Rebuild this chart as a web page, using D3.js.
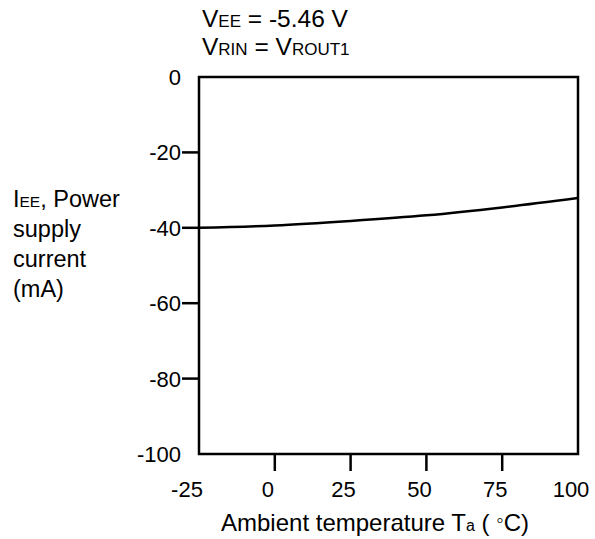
<!DOCTYPE html>
<html>
<head>
<meta charset="utf-8">
<script src="https://cdn.jsdelivr.net/npm/d3@7"></script>
<style>
  html, body { margin: 0; padding: 0; background: #fff; }
  svg { display: block; font-family: "Liberation Sans", Arial, sans-serif; }
  svg text { white-space: pre; }
</style>
</head>
<body>
<svg id="chart" width="595" height="539"></svg>
<script>
// Data
const temperatures = [-25, 0, 25, 50, 75, 100];
const currents = [-40.0, -39.4, -38.2, -36.7, -34.6, -32.1];
const xTickValues = [-25, 0, 25, 50, 75, 100];
const yTickValues = [0, -20, -40, -60, -80, -100];

const svg = d3.select("#chart");
const mLeft = 199, mRight = 578, mTop = 77, mBottom = 454;

const x = d3.scaleLinear().domain([-25, 100]).range([mLeft, mRight]);
const y = d3.scaleLinear().domain([-100, 0]).range([mBottom, mTop]);

// Plot box
svg.append("rect")
  .attr("x", mLeft).attr("y", mTop)
  .attr("width", mRight - mLeft).attr("height", mBottom - mTop)
  .attr("fill", "none").attr("stroke", "#000").attr("stroke-width", 2.5);

// X ticks (inner ones only drawn as marks)
const tickLen = 17;
svg.selectAll("line.xt")
  .data(xTickValues.filter(v => v > -25 && v < 100))
  .enter().append("line")
  .attr("x1", d => x(d)).attr("x2", d => x(d))
  .attr("y1", mBottom).attr("y2", mBottom + tickLen)
  .attr("stroke", "#000").attr("stroke-width", 2.5);

svg.selectAll("text.xl")
  .data(xTickValues)
  .enter().append("text")
  .attr("x", d => x(d) - (d < 0 ? 12 : 7))
  .attr("y", 497)
  .attr("text-anchor", "middle")
  .attr("font-size", 22)
  .text(d => d);

// Y ticks
svg.selectAll("line.yt")
  .data(yTickValues.filter(v => v > -100 && v < 0))
  .enter().append("line")
  .attr("x1", mLeft - tickLen).attr("x2", mLeft)
  .attr("y1", d => y(d)).attr("y2", d => y(d))
  .attr("stroke", "#000").attr("stroke-width", 2.5);

svg.selectAll("text.yl")
  .data(yTickValues)
  .enter().append("text")
  .attr("x", 181)
  .attr("y", d => y(d))
  .attr("dy", "0.36em")
  .attr("text-anchor", "end")
  .attr("font-size", 22)
  .text(d => d);

// Curve
const line = d3.line()
  .x((d, i) => x(temperatures[i]))
  .y(d => y(d))
  .curve(d3.curveMonotoneX);
svg.append("path")
  .datum(currents)
  .attr("d", line)
  .attr("fill", "none")
  .attr("stroke", "#000")
  .attr("stroke-width", 2.5);

// Top annotations
const big = 24.5, small = 17;
const t1 = svg.append("text").attr("x", 202).attr("y", 27).attr("font-size", big);
t1.append("tspan").text("V");
t1.append("tspan").attr("font-size", small).text("EE");
t1.append("tspan").text(" = -5.46 V");

const t2 = svg.append("text").attr("x", 202).attr("y", 55).attr("font-size", big);
t2.append("tspan").text("V");
t2.append("tspan").attr("font-size", small).text("RIN");
t2.append("tspan").text(" = V");
t2.append("tspan").attr("font-size", small).text("ROUT1");

// Y axis title
const yt = svg.append("text").attr("font-size", 23.5);
const l1 = yt.append("tspan").attr("x", 13).attr("y", 207);
l1.append("tspan").text("I");
l1.append("tspan").attr("font-size", 15.5).text("EE");
l1.append("tspan").text(", Power");
yt.append("tspan").attr("x", 13).attr("y", 237).text("supply");
yt.append("tspan").attr("x", 13).attr("y", 267).text("current");
yt.append("tspan").attr("x", 13).attr("y", 297).text("(mA)");

// X axis title
const xt = svg.append("text").attr("x", 221).attr("y", 531).attr("font-size", 24);
xt.append("tspan").text("Ambient temperature T");
xt.append("tspan").attr("font-size", 16).text("a");
xt.append("tspan").text(" ( ");
xt.append("tspan").attr("font-size", 21).attr("dy", -4).text("\u25E6");
xt.append("tspan").attr("dy", 4).text("C)");
</script>
</body>
</html>
